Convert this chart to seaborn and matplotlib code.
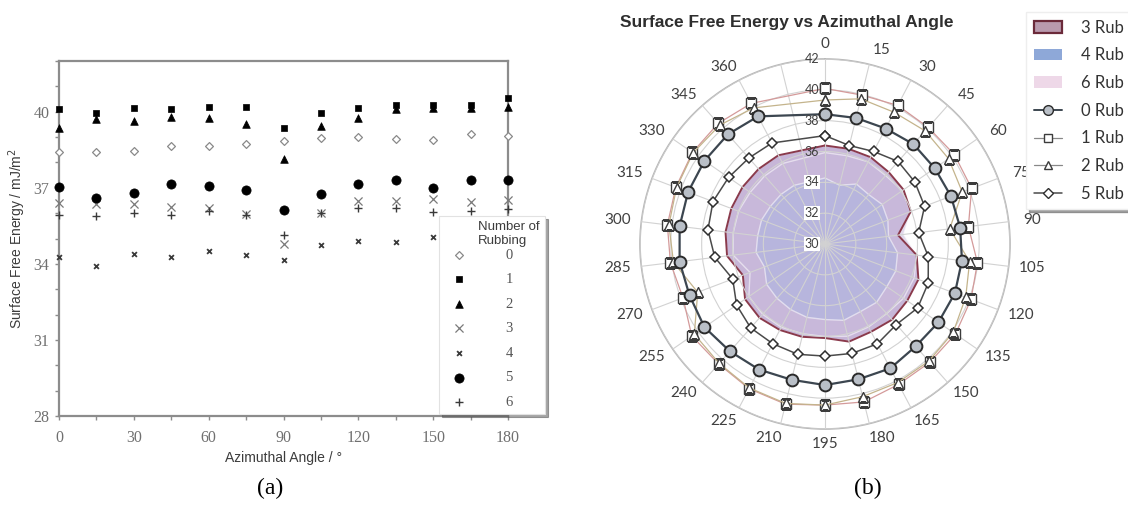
import numpy as np
import matplotlib
matplotlib.use("Agg")
import matplotlib.pyplot as plt
from matplotlib.lines import Line2D
from matplotlib.patches import Patch
from matplotlib import transforms
import seaborn as sns

# ---------------- (a) scatter: surface free energy vs azimuthal angle ----------------
angles_a = [0, 15, 30, 45, 60, 75, 90, 105, 120, 135, 150, 165, 180]
rub0 = [38.42, 38.42, 38.46, 38.65, 38.65, 38.74, 38.83, 38.95, 39.01, 38.94, 38.87, 39.11, 39.04]
rub1 = [40.09, 39.95, 40.15, 40.10, 40.20, 40.17, 39.37, 39.96, 40.13, 40.28, 40.25, 40.28, 40.55]
rub2 = [39.34, 39.70, 39.65, 39.80, 39.74, 39.52, 38.15, 39.45, 39.76, 40.10, 40.15, 40.15, 40.20]
rub3 = [36.39, 36.36, 36.36, 36.23, 36.19, 35.95, 34.77, 35.99, 36.48, 36.48, 36.56, 36.43, 36.52]
rub4 = [34.28, 33.93, 34.39, 34.28, 34.51, 34.36, 34.15, 34.74, 34.91, 34.87, 35.05, 34.95, 35.10]
rub5 = [37.03, 36.58, 36.78, 37.15, 37.08, 36.91, 36.12, 36.75, 37.16, 37.30, 36.98, 37.31, 37.31]
rub6 = [35.93, 35.90, 36.02, 35.93, 36.10, 35.93, 35.14, 35.99, 36.19, 36.19, 36.03, 36.08, 36.16]

# ---------------- (b) radar: 0..360 in 15 degree steps ----------------
radar_labels = ["0", "15", "30", "45", "60", "75", "90", "105", "120", "135", "150", "165",
                "180", "195", "210", "225", "240", "255", "270", "285", "300", "315",
                "330", "345", "360"]
radar0 = [38.42, 38.42, 38.46, 38.65, 38.65, 38.74, 38.83, 38.95, 39.01, 38.94, 38.87, 39.11,
          39.04, 39.15, 39.07, 39.20, 39.30, 39.50, 39.40, 39.50, 39.50, 39.50, 39.50, 39.50, 39.35]
radar1 = [40.09, 39.95, 40.15, 40.10, 40.20, 40.17, 39.37, 39.96, 40.13, 40.28, 40.25, 40.28,
          40.55, 40.45, 40.70, 40.60, 40.40, 40.50, 39.85, 40.10, 40.30, 40.35, 40.45, 40.45, 40.30]
radar2 = [39.34, 39.70, 39.65, 39.80, 39.74, 39.52, 38.15, 39.45, 39.76, 40.10, 40.15, 40.15,
          40.20, 40.45, 40.65, 40.55, 40.35, 40.30, 38.83, 39.90, 40.20, 40.30, 40.40, 40.30, 39.97]
radar3 = [36.39, 36.36, 36.36, 36.23, 36.19, 35.95, 34.77, 35.99, 36.48, 36.48, 36.56, 36.43,
          36.52, 36.10, 36.20, 36.30, 36.40, 36.30, 35.70, 36.40, 36.50, 36.50, 36.50, 36.50, 36.50]
radar4 = [34.28, 33.93, 34.39, 34.28, 34.51, 34.36, 34.15, 34.74, 34.91, 34.87, 35.05, 34.95,
          35.10, 34.90, 34.90, 34.80, 34.70, 34.60, 34.20, 34.50, 34.40, 34.40, 34.30, 34.30, 34.30]
radar5 = [37.03, 36.58, 36.78, 37.15, 37.08, 36.91, 36.12, 36.75, 37.16, 37.30, 36.98, 37.31,
          37.31, 37.27, 37.37, 37.30, 37.27, 36.97, 36.40, 37.20, 37.65, 37.77, 37.60, 37.45, 37.40]
radar6 = [35.93, 35.90, 36.02, 35.93, 36.10, 35.93, 35.14, 35.99, 36.19, 36.19, 36.03, 36.08,
          36.16, 36.00, 36.00, 36.10, 36.10, 36.00, 35.20, 36.00, 36.00, 36.00, 35.90, 35.90, 35.90]
radar_rticks = [30, 32, 34, 36, 38, 40, 42]

sns.set_theme(style="ticks")
plt.rcParams["font.family"] = ["Liberation Sans", "DejaVu Sans"]

W, H = 1128, 513
fig = plt.figure(figsize=(W / 100, H / 100), dpi=100)
fig.patch.set_facecolor("white")

# ======================= panel (a) =======================
ax = fig.add_axes([59 / W, 1 - 416 / H, 449 / W, 355 / H])
style_a = [
    ("0", rub0, dict(marker="D", s=16, color="white", edgecolor="#8a8a8a", linewidth=0.9)),
    ("1", rub1, dict(marker="s", s=24, color="black", edgecolor="black", linewidth=0.5)),
    ("2", rub2, dict(marker="^", s=30, color="black", edgecolor="black", linewidth=0.5)),
    ("3", rub3, dict(marker="x", s=34, color="#7a7a7a", linewidth=0.9)),
    ("4", rub4, dict(marker="x", s=12, color="#3a3a3a", linewidth=1.3)),
    ("5", rub5, dict(marker="o", s=44, color="black", edgecolor="black", linewidth=0.5)),
    ("6", rub6, dict(marker="+", s=30, color="#3a3a3a", linewidth=1.0)),
]
for lab, vals, kw in style_a:
    sns.scatterplot(x=angles_a, y=vals, ax=ax, label=lab, clip_on=False, zorder=3, **kw)

ax.set_xlim(0, 180)
ax.set_ylim(28, 42)
ax.set_xticks(range(0, 181, 30))
ax.set_xticks(range(0, 181, 15), minor=True)
ax.set_yticks([28, 31, 34, 37, 40])
ax.set_yticks(range(28, 43), minor=True)
for sp in ax.spines.values():
    sp.set_visible(True)
    sp.set_color("#8c8c8c")
    sp.set_linewidth(1.6)
ax.tick_params(which="both", direction="out", length=3, width=1.0, color="#8c8c8c")
ax.tick_params(axis="x", pad=7)
ax.tick_params(axis="y", pad=4)
for t in ax.get_xticklabels() + ax.get_yticklabels():
    t.set_fontfamily("Liberation Serif")
    t.set_fontsize(11.5)
    t.set_color("#707070")
ax.set_xlabel("Azimuthal Angle / °", fontsize=10, color="#3c3c3c", labelpad=4)
ax.set_ylabel("Surface Free Energy / mJ/m$^2$", fontsize=10, color="#3c3c3c", labelpad=4)

handles, labels = ax.get_legend_handles_labels()
leg = ax.legend(handles, labels, title="Number of\nRubbing", loc="upper left",
                bbox_to_anchor=(439 / W, 1 - 418 / H, 106 / W, 202 / H),
                bbox_transform=fig.transFigure, mode="expand", borderaxespad=0,
                alignment="right", frameon=True, shadow=True, fancybox=False,
                prop={"family": "Liberation Serif", "size": 10.5},
                title_fontproperties={"family": "Liberation Sans", "size": 9.5},
                labelspacing=0.78, handletextpad=2.2, borderpad=0.35, handlelength=2.0)
leg._legend_box.sep = 1.0
leg.get_frame().set_edgecolor("#e2e2e2")
leg.get_frame().set_linewidth(0.8)
for t in leg.get_texts():
    t.set_color("#555555")
leg.get_title().set_color("#3c3c3c")
leg.set_zorder(10)

# ======================= panel (b) =======================
pax = fig.add_axes([640 / W, 1 - 429 / H, 370 / W, 370 / H], projection="polar")
pax.set_theta_zero_location("N")
pax.set_theta_direction(-1)
n_slots = 26                      # 25 labelled categories plus one empty slot
step = 2 * np.pi / n_slots
theta = np.arange(len(radar_labels)) * step
theta_c = np.append(theta, 2 * np.pi)


def closed(v):
    return np.append(v, v[0])


fill_specs = [
    (radar3, "#c7b6d8", 1.0),
    (radar6, "#c9badc", 0.55),
    (radar4, "#a9b3e0", 0.55),
]
for vals, fc, a in fill_specs:
    pax.fill(theta_c, closed(vals), facecolor=fc, alpha=a, zorder=1)
pax.plot(theta_c, closed(radar3), color="#8a3a4c", lw=1.4, zorder=1.6)

line_specs = [
    (radar1, "#d49a9a", 0.9, "s", 6.5, "white", "#3c3c3c", 1.0),
    (radar2, "#c4b48c", 0.9, "^", 7.0, "white", "#3c3c3c", 1.0),
    (radar0, "#3c4650", 1.6, "o", 8.5, "#b9bfc7", "#2a2a2a", 1.4),
    (radar5, "#4a4a4a", 1.1, "D", 5.5, "white", "#2e2e2e", 1.1),
]
for vals, lc, lw, mk, ms, mfc, mec, mew in line_specs:
    sns.lineplot(x=theta_c, y=closed(vals), ax=pax, sort=False, estimator=None,
                 color=lc, linewidth=lw, marker=mk, markersize=ms,
                 markerfacecolor=mfc, markeredgecolor=mec, markeredgewidth=mew, zorder=3)

pax.set_ylim(30, 42)
pax.set_yticks(radar_rticks)
pax.set_yticklabels([])
pax.set_xticks(np.arange(n_slots) * step)
pax.set_xticklabels([])
pax.set_axisbelow(False)
pax.grid(True, color="#d2d2d2", linewidth=0.8, zorder=2)
for gl in pax.get_xgridlines() + pax.get_ygridlines():
    gl.set_zorder(2)
pax.spines["polar"].set_color("#b8b8b8")
pax.spines["polar"].set_linewidth(1.2)
pax.set_facecolor("white")
pax.set_xlabel("")
pax.set_ylabel("")

# category labels around the rim, nudged sideways away from the vertical axis
for th, lab in zip(theta, radar_labels):
    s = np.sin(th)
    dx = 9 * np.sign(s) if abs(s) > 0.05 else 0
    tr = transforms.offset_copy(pax.transData, fig=fig, x=dx, y=0, units="dots")
    pax.text(th, 42.95, lab, transform=tr, ha="center", va="center", fontfamily="Lato",
             fontsize=11, color="#404040", clip_on=False)

off = transforms.offset_copy(pax.transData, fig=fig, x=-4, y=0, units="points")
for r in radar_rticks:
    boxed = r <= 34
    pax.text(0, r, str(r), transform=off, ha="right", va="center", fontfamily="Lato",
             fontsize=9, color="#404040", zorder=5,
             bbox=dict(facecolor="white", edgecolor="none", pad=0.6) if boxed else None)

fig.text(787 / W, 1 - 22 / H, "Surface Free Energy vs Azimuthal Angle", ha="center",
         va="center", fontsize=12.5, fontweight="bold", color="#2e2e2e")

radar_handles = [
    Patch(facecolor="#b99aae", edgecolor="#6b2a3a", linewidth=1.6),
    Patch(facecolor="#8ea8d8", edgecolor="none"),
    Patch(facecolor="#eed8e8", edgecolor="none"),
    Line2D([], [], color="#3c4650", lw=1.4, marker="o", ms=7, mfc="#b9bfc7", mec="#2a2a2a"),
    Line2D([], [], color="#888888", lw=0.9, marker="s", ms=5.5, mfc="white", mec="#3c3c3c"),
    Line2D([], [], color="#888888", lw=0.9, marker="^", ms=6, mfc="white", mec="#3c3c3c"),
    Line2D([], [], color="#4a4a4a", lw=1.1, marker="D", ms=5, mfc="white", mec="#2e2e2e"),
]
radar_names = ["3 Rub", "4 Rub", "6 Rub", "0 Rub", "1 Rub", "2 Rub", "5 Rub"]
leg2 = fig.legend(radar_handles, radar_names, loc="upper left",
                  bbox_to_anchor=(1018 / W, 1 - 4 / H), frameon=True, shadow=True,
                  fancybox=False, prop={"family": "Lato", "size": 12},
                  labelspacing=0.70, handlelength=1.7, handletextpad=1.1, borderpad=0.45)
leg2.get_frame().set_edgecolor("#eeeeee")
for t in leg2.get_texts():
    t.set_color("#333333")

fig.text(270 / W, 1 - 488 / H, "(a)", ha="center", va="center",
         fontfamily="Liberation Serif", fontsize=17, color="black")
fig.text(868 / W, 1 - 488 / H, "(b)", ha="center", va="center",
         fontfamily="Liberation Serif", fontsize=17, color="black")

fig.savefig("out.png", dpi=100, facecolor="white")
